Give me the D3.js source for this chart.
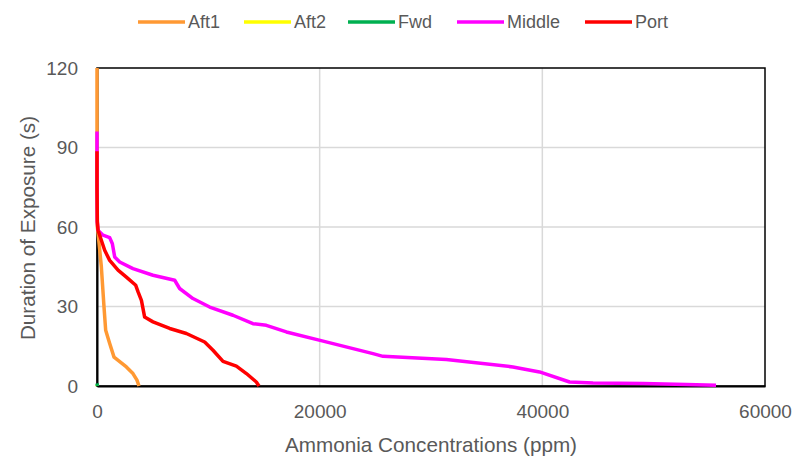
<!DOCTYPE html>
<html><head><meta charset="utf-8">
<script src="https://cdn.jsdelivr.net/npm/d3@7"></script>
<style>body{margin:0;background:#fff;} svg{font-family:"Liberation Sans",Arial,sans-serif;}</style>
</head><body><svg id="c" width="792" height="458"></svg>
<script>
const seriesNames = ["Aft1","Aft2","Fwd","Middle","Port"];
const seriesColors = ["#ff9933","#ffff00","#00b050","#ff00ff","#ff0000"];
const xTicks = [0,20000,40000,60000];
const yTicks = [0,30,60,90,120];
// each series: [concentration ppm, duration s]
const aft1 = [[0,120],[0,90],[30,60],[90,58],[390,45],[630,29.8],[780,21],[1140,16],[1530,10.9],[2640,7.2],[3230,4.7],[3590,2.2],[3770,0]];
const aft2 = [[0,0.5],[20,0]];
const fwd = [[0,1],[40,0]];
const middle = [[0,96],[0,80],[20,62],[90,58.8],[540,56.9],[1140,56],[1380,53.7],[1590,48.7],[2040,46.8],[3230,44.3],[5030,41.8],[6980,39.9],[7420,36.8],[8620,33],[10120,29.8],[12210,26.7],[14010,23.5],[15210,22.9],[17010,20.4],[20040,17.2],[24790,12.2],[25690,11.2],[31380,10],[37360,7.2],[39750,5.3],[42450,1.5],[44550,1.1],[49040,0.9],[52930,0.6],[55600,0.3]];
const port = [[0,88.6],[0,75],[30,62],[90,58.8],[690,51.2],[1140,47.4],[1890,43.7],[2640,41.1],[3480,38],[3690,35.5],[3990,32.3],[4280,26],[5030,24.2],[6530,21.7],[8030,19.8],[9670,16.6],[10420,13.5],[11320,9.3],[12520,7.5],[13420,4.7],[14310,1.5],[14550,0]];
const seriesData = [aft1,aft2,fwd,middle,port];

const svg = d3.select("#c");
const L=97, R=765, T=68, B=386;
const x = d3.scaleLinear().domain([0,60000]).range([L,R]);
const y = d3.scaleLinear().domain([0,120]).range([B,T]);
const grey="#595959";

// gridlines
svg.append("g").selectAll("line").data(xTicks.filter(d=>d>0&&d<60000)).join("line")
  .attr("x1",d=>x(d)).attr("x2",d=>x(d)).attr("y1",T).attr("y2",B)
  .attr("stroke","#d9d9d9").attr("stroke-width",1.5);
svg.append("g").selectAll("line").data(yTicks.filter(d=>d>0&&d<120)).join("line")
  .attr("y1",d=>y(d)).attr("y2",d=>y(d)).attr("x1",L).attr("x2",R)
  .attr("stroke","#d9d9d9").attr("stroke-width",1.5);

// border
svg.append("rect").attr("x",L).attr("y",T).attr("width",R-L).attr("height",B-T)
  .attr("fill","none").attr("stroke","#000").attr("stroke-width",1.5);

// axes
const xa = svg.append("g").attr("transform",`translate(0,${B})`)
  .call(d3.axisBottom(x).tickValues(xTicks).tickFormat(d3.format("d")).tickSize(0).tickPadding(17));
const ya = svg.append("g").attr("transform",`translate(${L},0)`)
  .call(d3.axisLeft(y).tickValues(yTicks).tickSize(0).tickPadding(19));
[xa,ya].forEach(a=>{a.select(".domain").attr("stroke","#000").attr("stroke-width",2);
  a.selectAll("text").attr("fill",grey).style("font-size","19px");});
xa.selectAll("text").attr("dy","0.8em");

// lines
const line = d3.line().x(d=>x(d[0])).y(d=>y(d[1]));
svg.append("g").selectAll("path").data(seriesData).join("path")
  .attr("d",line).attr("fill","none")
  .attr("stroke",(d,i)=>seriesColors[i]).attr("stroke-width",3.5)
  .attr("stroke-linejoin","round");

// titles
svg.append("text").attr("x",431).attr("y",452).attr("text-anchor","middle")
  .attr("fill",grey).style("font-size","20.7px").text("Ammonia Concentrations (ppm)");
svg.append("text").attr("transform",`translate(35,228) rotate(-90)`).attr("text-anchor","middle")
  .attr("fill",grey).style("font-size","20.7px").text("Duration of Exposure (s)");

// legend
const legX = [138,244,348,457,585];
const lg = svg.append("g").selectAll("g").data(seriesNames).join("g")
  .attr("transform",(d,i)=>`translate(${legX[i]},22)`);
lg.append("line").attr("x1",0).attr("x2",47).attr("stroke",(d,i)=>seriesColors[i]).attr("stroke-width",3.5);
lg.append("text").attr("x",50).attr("dy","0.35em").attr("fill",grey).style("font-size","18px").text(d=>d);
</script></body></html>
